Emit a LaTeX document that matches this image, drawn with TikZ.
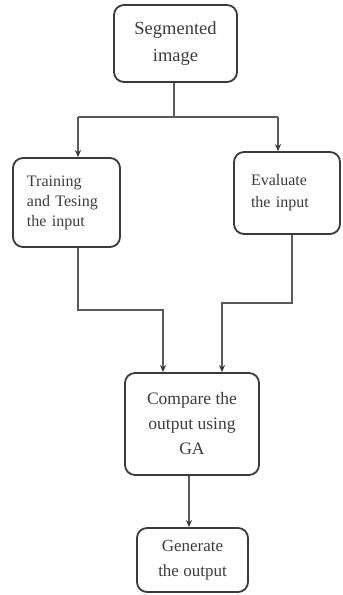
\documentclass[tikz,border=0pt]{standalone}
\usepackage{fontspec}
\setmainfont{Liberation Serif}
\usetikzlibrary{arrows.meta}
\definecolor{boxline}{HTML}{3A3A3A}
\definecolor{wire}{HTML}{5A5A5A}
\definecolor{ink}{HTML}{3C3C3C}
\begin{document}
\begin{tikzpicture}[x=1pt,y=-1pt,
  stepbox/.style={draw=boxline, line width=1.8pt, rounded corners=10pt, fill=white,
    text=ink, inner sep=0pt, anchor=center},
  wireline/.style={draw=wire, line width=1.3pt},
  flow/.style={wireline, -{Stealth[length=7pt,width=6pt,color=boxline]}}]
\useasboundingbox[fill=white] (0,0) rectangle (343,595);

% process boxes
\node[stepbox, minimum width=123pt, minimum height=77pt, align=center,
  font=\fontsize{18.5}{27}\selectfont] (seg) at (175.5,43.5) {Segmented\\image};
\node[stepbox, minimum width=107pt, minimum height=89pt, text width=79pt,
  inner xsep=14pt, align=left, font=\fontsize{16}{20}\selectfont]
  (train) at (66.5,202.5) {Training\\and Tesing\\the input};
\node[stepbox, minimum width=106pt, minimum height=82pt, text width=72pt,
  inner xsep=17pt, align=left, font=\fontsize{16}{22}\selectfont]
  (eval) at (287,193) {Evaluate\\the input};
\node[stepbox, minimum width=134pt, minimum height=102pt, align=center,
  font=\fontsize{17.5}{25}\selectfont] (comp) at (192,424) {Compare the\\output using\\GA};
\node[stepbox, minimum width=111pt, minimum height=64pt, align=center,
  font=\fontsize{17}{25}\selectfont] (gen) at (192.5,560) {Generate\\the output};

% split points and bends
\coordinate (sm) at (174,117);
\coordinate (sl) at (78,117);
\coordinate (sr) at (278,117);
\coordinate (lb) at (78,310);
\coordinate (lm) at (163,310);
\coordinate (rb) at (292,303);
\coordinate (rm) at (222,303);

% connectors
\draw[wireline] (seg.south -| sm) -- (sm);
\draw[wireline] (sl) -- (sr);
\draw[flow] (sl) -- (sl |- train.north);
\draw[flow] (sr) -- (sr |- eval.north);
\draw[flow] (lb |- train.south) -- (lb) -- (lm) -- (lm |- comp.north);
\draw[flow] (rb |- eval.south) -- (rb) -- (rm) -- (rm |- comp.north);
\draw[flow] ([xshift=-3pt]comp.south) -- ([xshift=-3pt]comp.south |- gen.north);
\end{tikzpicture}
\end{document}
